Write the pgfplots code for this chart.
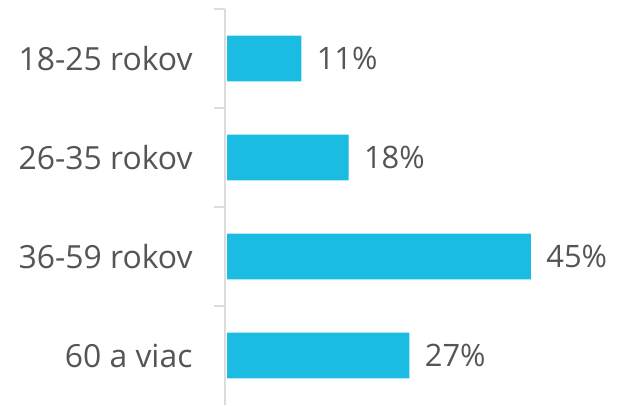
\documentclass[border=0pt]{standalone}
\usepackage{fontspec}
\setmainfont{Open Sans}
\usepackage{pgfplots}
\pgfplotsset{compat=1.18}
\definecolor{barblue}{RGB}{26,188,226}
\definecolor{txtgray}{RGB}{85,85,85}
\definecolor{axgray}{RGB}{220,220,220}

\begin{document}
\begin{tikzpicture}
\begin{axis}[
  at={(0pt,0pt)}, anchor=south west,
  scale only axis, width=395bp, height=396bp,
  xbar, bar width=0.46,
  xmin=-0.3, xmax=58.2, ymin=-0.5, ymax=3.5,
  axis x line=none, axis y line=left,
  y axis line style={-, draw=axgray, line width=1.5pt},
  ytick={0,1,2,3},
  yticklabels={60 a viac,36-59 rokov,26-35 rokov,18-25 rokov},
  major tick length=0pt,
  yticklabel style={font=\fontsize{32}{32}\selectfont, text=txtgray, xshift=-29bp},
  extra y ticks={0.5,1.5,2.5,3.5},
  extra y tick labels={},
  extra y tick style={tick align=outside, major tick length=11bp,
    tick style={draw=axgray, line width=1.5pt}},
  point meta=x,
  nodes near coords={\pgfmathprintnumber{\pgfplotspointmeta}\%},
  /pgf/number format/assume math mode=true,
  every node near coord/.append style={font=\fontsize{31}{31}\selectfont, text=txtgray, anchor=west, xshift=12bp},
]
\addplot[fill=barblue, draw=none] coordinates {(27,0) (45,1) (18,2) (11,3)};
\end{axis}
\pgfresetboundingbox
\useasboundingbox (-225bp,-1bp) rectangle (395bp,405bp);
\end{tikzpicture}
\end{document}
